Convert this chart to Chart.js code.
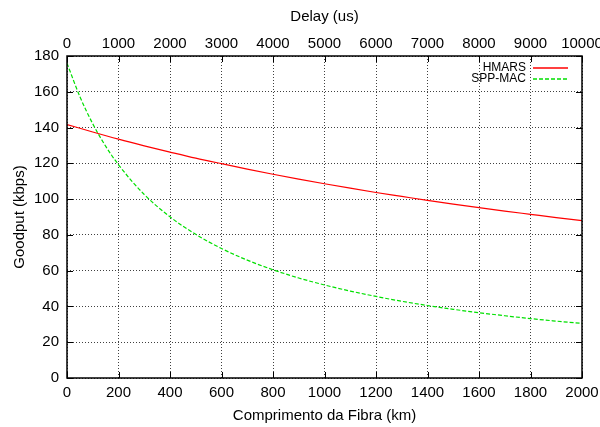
<!DOCTYPE html>
<html>
<head>
<meta charset="utf-8">
<script src="https://cdn.jsdelivr.net/npm/chart.js@4.4.1/dist/chart.umd.min.js"></script>
<style>
  body { margin: 0; background: #fff; }
  #wrap { width: 600px; height: 427px; }
</style>
</head>
<body>
<div id="wrap"><canvas id="myChart" width="600" height="427"></canvas></div>
<script>
// distance along the fibre (km)
var hmarsKm = [0,100,200,300,400,500,600,700,800,900,1000,1100,1200,1300,1400,1500,1600,1700,1800,1900,2000];
var hmarsVal = [141.7,137.5,133.5,129.8,126.3,122.9,119.8,116.8,113.9,111.2,108.6,106.1,103.7,101.5,99.3,97.2,95.2,93.3,91.5,89.7,88.0];

var sppKm = [0,50,100,150,200,300,400,500,600,700,800,900,1000,1100,1200,1300,1400,1500,1600,1700,1800,1900,2000];
var sppVal = [176,157.3,142.1,129.6,119.2,102.6,90.1,80.3,72.4,65.9,60.5,55.9,52.0,48.6,45.6,42.9,40.5,38.4,36.5,34.8,33.2,31.8,30.5];

var seriesNames = ["HMARS", "SPP-MAC"];
var lineColors = ["#ff0000", "#00e000"];
var lineDashes = [[], [4, 2]];

function toPoints(xs, ys) {
  var pts = [];
  for (var i = 0; i < xs.length; i++) pts.push({x: xs[i], y: ys[i]});
  return pts;
}

function plainTick(v) { return String(v); }

var font = "'Liberation Sans', Arial, Helvetica, sans-serif";
Chart.defaults.font.family = font;
Chart.defaults.font.size = 15;
Chart.defaults.color = "#000";

// gnuplot-like frame, inward ticks and legend inside the plot
var framePlugin = {
  id: "frame",
  afterDatasetsDraw: function(chart) {
    var ctx = chart.ctx, a = chart.chartArea;
    var sx = chart.scales.x, sy = chart.scales.y, sx2 = chart.scales.x2;
    ctx.save();
    ctx.strokeStyle = "#000";
    ctx.lineWidth = 1;
    ctx.beginPath();
    sx.ticks.forEach(function(t) {
      var p = Math.round(sx.getPixelForValue(t.value)) + 0.5;
      ctx.moveTo(p, a.bottom); ctx.lineTo(p, a.bottom - 6);
    });
    sx2.ticks.forEach(function(t) {
      var p = Math.round(sx2.getPixelForValue(t.value)) + 0.5;
      ctx.moveTo(p, a.top); ctx.lineTo(p, a.top + 6);
    });
    sy.ticks.forEach(function(t) {
      var p = Math.round(sy.getPixelForValue(t.value)) + 0.5;
      ctx.moveTo(a.left, p); ctx.lineTo(a.left + 6, p);
      ctx.moveTo(a.right, p); ctx.lineTo(a.right - 6, p);
    });
    ctx.stroke();
    ctx.lineWidth = 1.5;
    ctx.strokeRect(a.left, a.top, a.right - a.left, a.bottom - a.top);
    ctx.restore();

    // legend
    var rows = [68, 79];
    for (var i = 0; i < seriesNames.length; i++) {
      ctx.save();
      ctx.font = "12px " + font;
      ctx.textAlign = "right";
      ctx.textBaseline = "middle";
      ctx.fillStyle = "#000";
      ctx.fillText(seriesNames[i], a.right - 56, rows[i]);
      ctx.restore();

      ctx.save();
      ctx.lineWidth = 1.3;
      ctx.strokeStyle = lineColors[i];
      ctx.setLineDash(lineDashes[i]);
      ctx.beginPath();
      ctx.moveTo(a.right - 49, rows[i]);
      ctx.lineTo(a.right - 14, rows[i]);
      ctx.stroke();
      ctx.restore();
    }
  }
};

new Chart("myChart", {
  type: "line",
  data: {
    datasets: [{
      label: seriesNames[0],
      data: toPoints(hmarsKm, hmarsVal),
      borderColor: lineColors[0],
      borderWidth: 1.2,
      borderDash: lineDashes[0],
      pointRadius: 0,
      fill: false,
      cubicInterpolationMode: "monotone"
    }, {
      label: seriesNames[1],
      data: toPoints(sppKm, sppVal),
      borderColor: lineColors[1],
      borderWidth: 1.2,
      borderDash: lineDashes[1],
      pointRadius: 0,
      fill: false,
      cubicInterpolationMode: "monotone"
    }]
  },
  options: {
    responsive: false,
    animation: false,
    layout: {padding: 0},
    plugins: {legend: {display: false}, tooltip: {enabled: false}},
    scales: {
      x: {
        type: "linear",
        position: "bottom",
        min: 0, max: 2000,
        ticks: {stepSize: 200, padding: 6, maxRotation: 0, callback: plainTick},
        grid: {color: "rgba(0,0,0,0.75)", drawTicks: false},
        border: {display: false, dash: [1, 2]},
        title: {display: true, text: "Comprimento da Fibra (km)", padding: {top: 0, bottom: 2}},
        afterFit: function(s) { s.height = 49; s.paddingRight = 18; }
      },
      x2: {
        type: "linear",
        position: "top",
        min: 0, max: 10000,
        ticks: {stepSize: 1000, padding: 3, maxRotation: 0, callback: plainTick},
        grid: {drawOnChartArea: false, drawTicks: false},
        border: {display: false},
        title: {display: true, text: "Delay (us)", padding: {top: 8, bottom: 0}},
        afterFit: function(s) { s.height = 56; s.paddingRight = 18; }
      },
      y: {
        min: 0, max: 180,
        ticks: {stepSize: 20, padding: 8, callback: plainTick},
        grid: {color: "rgba(0,0,0,0.75)", drawTicks: false},
        border: {display: false, dash: [1, 2]},
        title: {display: true, text: "Goodput (kbps)", padding: {top: 11, bottom: 0}},
        afterFit: function(s) { s.width = 67; }
      }
    }
  },
  plugins: [framePlugin]
});
</script>
</body>
</html>
